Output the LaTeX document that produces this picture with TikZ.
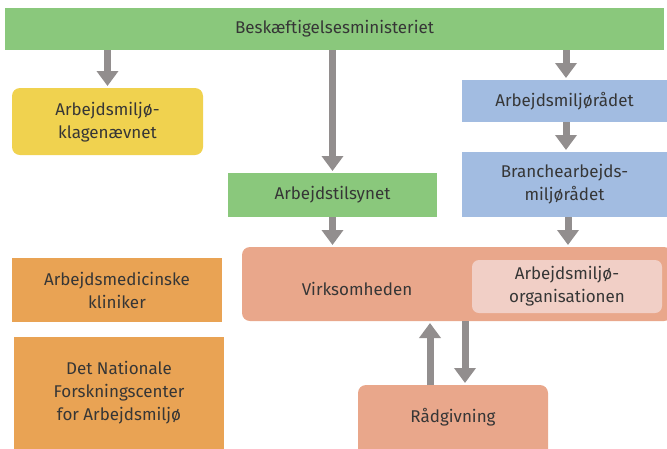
\documentclass[tikz,border=0pt]{standalone}
\usepackage{fontspec}
\setmainfont{Fira Sans}
\usetikzlibrary{arrows.meta,positioning,calc}
\definecolor{cgreen}{HTML}{8AC87C}
\definecolor{cyellow}{HTML}{F0D24F}
\definecolor{cblue}{HTML}{A2BCE1}
\definecolor{csalmon}{HTML}{E9A78B}
\definecolor{cpink}{HTML}{F1CFC6}
\definecolor{corange}{HTML}{E9A354}
\definecolor{cgray}{HTML}{928E8E}
\definecolor{ctext}{HTML}{363636}
\tikzset{
  box/.style={text=ctext, font=\fontsize{17}{23}\selectfont, align=center, inner sep=0pt},
  arr/.style={draw=cgray, line width=7pt, -{Triangle[width=21pt,length=15pt]}, shorten >=2pt},
}
\begin{document}
\begin{tikzpicture}[x=1pt,y=-1pt]
\useasboundingbox (0,0) rectangle (667,448);
% boxes
\fill[cgreen] (5,8) rectangle (664,50);
\node[box] (top) at (334.5,29) {Beskæftigelsesministeriet};
\coordinate (topS) at (334.5,50);

\fill[cyellow, rounded corners=8pt] (12,88) rectangle (203,155);
\node[box] (klage) at (107.5,122) {Arbejdsmiljø-\\klagenævnet};
\coordinate (klageN) at (107.5,88);

\fill[cgreen] (228,173) rectangle (437,217);
\node[box] (arbtil) at (332.5,195) {Arbejdstilsynet};
\coordinate (arbtilN) at (332.5,173);
\coordinate (arbtilS) at (332.5,217);

\fill[cblue] (462,80) rectangle (667,122);
\node[box] (amr) at (564.5,101) {Arbejdsmiljørådet};
\coordinate (amrN) at (566,80);
\coordinate (amrS) at (566,122);

\fill[cblue] (462,152) rectangle (667,217);
\node[box] (branche) at (564.5,184) {Branchearbejds-\\miljørådet};
\coordinate (brancheN) at (566,152);
\coordinate (brancheS) at (568,217);

\fill[csalmon, rounded corners=8pt] (242,247) rectangle (672,321);
\node[box] (virk) at (357,289) {Virksomheden};
\coordinate (virkN1) at (332.5,247);
\coordinate (virkN2) at (568,247);
\coordinate (virkS1) at (430,321);
\coordinate (virkS2) at (465,321);

\fill[cpink, rounded corners=7pt] (472,260) rectangle (662,313);
\node[box] (amo) at (567,286.5) {Arbejdsmiljø-\\organisationen};

\fill[corange] (12,258) rectangle (222,322);
\node[box] (amk) at (117,290) {Arbejdsmedicinske\\kliniker};

\fill[corange] (14,337) rectangle (224,455);
\node[box] (nfa) at (119,393) {Det Nationale\\Forskningscenter\\for Arbejdsmiljø};

\fill[csalmon, rounded corners=8pt] (358,385) rectangle (548,460);
\node[box] (raad) at (453,417) {Rådgivning};
\coordinate (raadN1) at (430,385);
\coordinate (raadN2) at (465,385);

% arrows
\draw[arr] (topS -| klageN) -- (klageN);
\draw[arr] (topS -| arbtilN) -- (arbtilN);
\draw[arr] (topS -| amrN) -- (amrN);
\draw[arr] (amrS) -- (brancheN);
\draw[arr] (arbtilS) -- (virkN1);
\draw[arr] (brancheS) -- (virkN2);
\draw[arr] (raadN1) -- (virkS1);
\draw[arr] (virkS2) -- (raadN2);
\end{tikzpicture}
\end{document}
